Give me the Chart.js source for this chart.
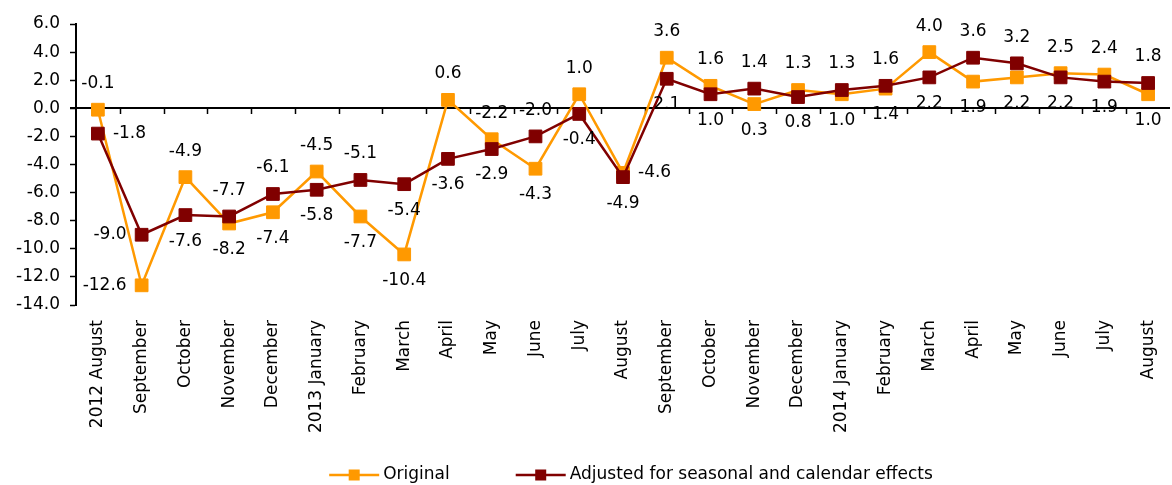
<!DOCTYPE html>
<html>
<head>
<meta charset="utf-8">
<script src="https://cdn.jsdelivr.net/npm/chart.js@4.4.1/dist/chart.umd.min.js"></script>
<style>
  html, body { margin: 0; padding: 0; background: #fff; overflow: hidden; width: 1172px; height: 485px; }
  #wrap { width: 1180px; height: 485px; }
  canvas { display: block; }
</style>
</head>
<body>
<div id="wrap"><canvas id="c" width="1180" height="485"></canvas></div>
<script>
const categories = [
  '2012 August', 'September', 'October', 'November', 'December',
  '2013 January', 'February', 'March', 'April', 'May', 'June', 'July', 'August',
  'September', 'October', 'November', 'December',
  '2014 January', 'February', 'March', 'April', 'May', 'June', 'July', 'August'
];
const originalValues = [
  -0.1, -12.6, -4.9, -8.2, -7.4,
  -4.5, -7.7, -10.4, 0.6, -2.2, -4.3, 1.0, -4.6,
  3.6, 1.6, 0.3, 1.3,
  1.0, 1.4, 4.0, 1.9, 2.2, 2.5, 2.4, 1.0
];
const adjustedValues = [
  -1.8, -9.0, -7.6, -7.7, -6.1,
  -5.8, -5.1, -5.4, -3.6, -2.9, -2.0, -0.4, -4.9,
  2.1, 1.0, 1.4, 0.8,
  1.3, 1.6, 2.2, 3.6, 3.2, 2.2, 1.9, 1.8
];
const seriesNames = ['Original', 'Adjusted for seasonal and calendar effects'];
const yMin = -14, yMax = 6, yStep = 2;

const COLORS = ['#FF9900', '#800000'];
const FONT = 'DejaVu Sans';
const FS = 17;

// label placement: higher series above, lower below, with a few exceptions
const labelOverrides = { '0-1': 'right', '1-0': 'left', '1-1': 'left', '7-1': 'below', '12-0': 'right' };
const allSeries = [originalValues, adjustedValues];
function labelPos(di, i) {
  const k = i + '-' + di;
  if (labelOverrides[k]) return labelOverrides[k];
  return allSeries[di][i] >= allSeries[1 - di][i] ? 'above' : 'below';
}

const zeroAxisPlugin = {
  id: 'zeroAxis',
  beforeDatasetsDraw(chart) {
    const { ctx, chartArea, scales: { x, y } } = chart;
    const y0 = Math.round(y.getPixelForValue(0));
    ctx.save();
    ctx.strokeStyle = '#000';
    ctx.lineWidth = 2;
    ctx.beginPath();
    ctx.moveTo(chartArea.left - 6, y0);
    ctx.lineTo(chartArea.right, y0);
    ctx.stroke();
    ctx.lineWidth = 1.5;
    for (let i = 1; i < categories.length; i++) {
      const bx = Math.round((x.getPixelForValue(i - 1) + x.getPixelForValue(i)) / 2) + 0.5;
      ctx.beginPath();
      ctx.moveTo(bx, y0);
      ctx.lineTo(bx, y0 + 6);
      ctx.stroke();
    }
    ctx.restore();
  }
};

const dataLabelPlugin = {
  id: 'dataLabels',
  afterDatasetsDraw(chart) {
    const { ctx } = chart;
    ctx.save();
    ctx.font = FS + 'px "' + FONT + '"';
    ctx.fillStyle = '#000';
    [0, 1].forEach(di => {
      const meta = chart.getDatasetMeta(di);
      meta.data.forEach((pt, i) => {
        const txt = allSeries[di][i].toFixed(1);
        const pos = labelPos(di, i);
        let tx = pt.x, ty = pt.y;
        ctx.textBaseline = 'middle';
        if (pos === 'above') { ctx.textAlign = 'center'; ty -= 26; }
        else if (pos === 'below') { ctx.textAlign = 'center'; ty += 26; }
        else if (pos === 'left') { ctx.textAlign = 'right'; tx -= 15; }
        else { ctx.textAlign = 'left'; tx += 15; }
        ctx.fillText(txt, tx, ty);
      });
    });
    ctx.restore();
  }
};

const legendPlugin = {
  id: 'customLegend',
  afterDraw(chart) {
    const { ctx, chartArea } = chart;
    ctx.save();
    ctx.font = FS + 'px "' + FONT + '"';
    const lineW = 50, gapText = 4, gapItem = 66;
    const widths = seriesNames.map(n => ctx.measureText(n).width);
    const total = widths.reduce((a, w) => a + lineW + gapText + w, 0) + gapItem * (seriesNames.length - 1);
    let x = (chartArea.left + chartArea.right) / 2 - total / 2 + 8;
    const yc = 475;
    seriesNames.forEach((name, k) => {
      ctx.strokeStyle = COLORS[k];
      ctx.lineWidth = 2.5;
      ctx.beginPath();
      ctx.moveTo(x, yc);
      ctx.lineTo(x + lineW, yc);
      ctx.stroke();
      ctx.fillStyle = COLORS[k];
      ctx.fillRect(x + lineW / 2 - 5.5, yc - 5.5, 11, 11);
      ctx.fillStyle = '#000';
      ctx.textAlign = 'left';
      ctx.textBaseline = 'middle';
      ctx.fillText(name, x + lineW + gapText, yc);
      x += lineW + gapText + widths[k] + gapItem;
    });
    ctx.restore();
  }
};

new Chart(document.getElementById('c'), {
  type: 'line',
  data: {
    labels: categories,
    datasets: [
      {
        label: seriesNames[0],
        data: originalValues,
        borderColor: COLORS[0],
        backgroundColor: COLORS[0],
        borderWidth: 2.5,
        pointStyle: 'rect',
        pointRadius: 9,
        pointBorderWidth: 1,
        pointBackgroundColor: COLORS[0],
        pointBorderColor: COLORS[0],
        tension: 0,
        order: 2
      },
      {
        label: seriesNames[1],
        data: adjustedValues,
        borderColor: COLORS[1],
        backgroundColor: COLORS[1],
        borderWidth: 2.5,
        pointStyle: 'rect',
        pointRadius: 9,
        pointBorderWidth: 1,
        pointBackgroundColor: COLORS[1],
        pointBorderColor: COLORS[1],
        tension: 0,
        order: 1
      }
    ]
  },
  options: {
    responsive: false,
    animation: false,
    layout: { padding: { top: 24, left: 0, right: 0, bottom: 40 } },
    plugins: {
      legend: { display: false },
      tooltip: { enabled: false }
    },
    scales: {
      x: {
        offset: true,
        grid: { display: false, drawTicks: false },
        border: { display: false },
        ticks: {
          autoSkip: false, maxRotation: 90, minRotation: 90, padding: 15,
          color: '#000', font: { family: FONT, size: FS }
        },
        afterFit(s) { s.height = 140; s.paddingLeft = 0; s.paddingRight = 0; }
      },
      y: {
        min: yMin, max: yMax,
        ticks: {
          stepSize: yStep, padding: 10, color: '#000',
          font: { family: FONT, size: FS },
          callback: v => Number(v).toFixed(1)
        },
        grid: { drawOnChartArea: false, tickLength: 6, tickColor: '#000', tickWidth: 1.5 },
        border: { color: '#000', width: 2 },
        afterFit(s) { s.width = 76; }
      }
    }
  },
  plugins: [zeroAxisPlugin, dataLabelPlugin, legendPlugin]
});
</script>
</body>
</html>
